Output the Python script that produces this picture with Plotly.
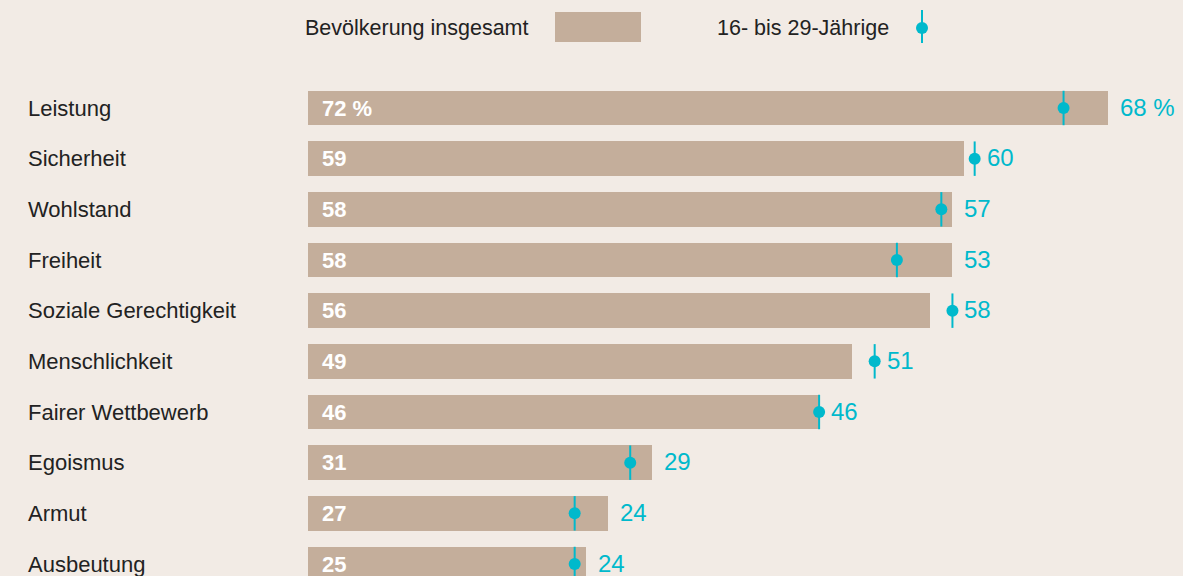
import plotly.graph_objs as go

# values
categories = ['Leistung', 'Sicherheit', 'Wohlstand', 'Freiheit', 'Soziale Gerechtigkeit',
              'Menschlichkeit', 'Fairer Wettbewerb', 'Egoismus', 'Armut', 'Ausbeutung']
total = [72, 59, 58, 58, 56, 49, 46, 31, 27, 25]
youth = [68, 60, 57, 53, 58, 51, 46, 29, 24, 24]
total_labels = ['72 %'] + [str(v) for v in total[1:]]
youth_labels = ['68 %'] + [str(v) for v in youth[1:]]

bg = '#F2EBE5'
bar_color = '#C4AE9B'
teal = '#00B9CC'
text_color = '#222222'
font = 'Liberation Sans, Arial, sans-serif'

W, H = 1183, 576
ml, mt = 308, 60
row_px = 50.67
x_px = 800 / 72  # pixels per percentage point

# pixel helpers for layout items outside the plot area
def px(x):
    return (x - ml) / (W - ml)

def py(y):
    return (H - y) / (H - mt)

ypos = list(range(len(categories)))

fig = go.Figure()

fig.add_trace(go.Bar(
    x=total, y=ypos, orientation='h',
    marker=dict(color=bar_color, line=dict(width=0)),
    width=0.69, hoverinfo='skip', showlegend=False
))

# vertical ticks through the youth markers
lx, ly = [], []
for i, v in enumerate(youth):
    lx += [v, v, None]
    ly += [i - 0.34, i + 0.34, None]
fig.add_trace(go.Scatter(
    x=lx, y=ly, mode='lines',
    line=dict(color=teal, width=2), hoverinfo='skip', showlegend=False
))
fig.add_trace(go.Scatter(
    x=youth, y=ypos, mode='markers',
    marker=dict(color=teal, size=12, line=dict(width=0)),
    hoverinfo='skip', showlegend=False
))

annotations = []
for i, cat in enumerate(categories):
    annotations.append(dict(
        x=px(26), xref='paper', y=i, yref='y', text=cat, showarrow=False,
        xanchor='left', yanchor='middle',
        font=dict(family=font, size=22, color=text_color)
    ))
    annotations.append(dict(
        x=0, xref='x', y=i, yref='y', text='<b>%s</b>' % total_labels[i], showarrow=False,
        xanchor='left', yanchor='middle', xshift=12,
        font=dict(family=font, size=22, color='white')
    ))
    annotations.append(dict(
        x=max(total[i], youth[i]), xref='x', y=i, yref='y', text=youth_labels[i],
        showarrow=False, xanchor='left', yanchor='middle', xshift=10, yshift=1,
        font=dict(family=font, size=24, color=teal)
    ))

# legend (text left of the symbol)
annotations.append(dict(
    x=px(303), xref='paper', y=py(28), yref='paper', text='Bevölkerung insgesamt',
    showarrow=False, xanchor='left', yanchor='middle',
    font=dict(family=font, size=21.5, color=text_color)
))
annotations.append(dict(
    x=px(715), xref='paper', y=py(28), yref='paper', text='16- bis 29-Jährige',
    showarrow=False, xanchor='left', yanchor='middle',
    font=dict(family=font, size=21.5, color=text_color)
))

shapes = [
    dict(type='rect', xref='paper', yref='paper', x0=px(555), x1=px(641), y0=py(42), y1=py(12),
         fillcolor=bar_color, line=dict(width=0)),
    dict(type='line', xref='paper', yref='paper', x0=px(922), x1=px(922), y0=py(43), y1=py(10),
         line=dict(color=teal, width=2)),
    dict(type='circle', xref='paper', yref='paper', x0=px(916), x1=px(928), y0=py(34), y1=py(22),
         fillcolor=teal, line=dict(width=0)),
]

fig.update_layout(
    width=W, height=H,
    margin=dict(l=ml, r=0, t=mt, b=0),
    paper_bgcolor=bg, plot_bgcolor=bg,
    xaxis=dict(range=[0, (W - ml) / x_px], visible=False, fixedrange=True),
    yaxis=dict(range=[9 + (H - 564) / row_px, -(108 - mt) / row_px], visible=False, fixedrange=True),
    annotations=annotations,
    shapes=shapes,
    bargap=0,
    showlegend=False,
)

fig.write_html('out.html', config={'displayModeBar': False})

# drop the default page margin so the figure sits at the window's corner
with open('out.html', encoding='utf-8') as f:
    page = f.read()
page = page.replace('<body>', '<body style="margin:0;background:%s">' % bg, 1)
with open('out.html', 'w', encoding='utf-8') as f:
    f.write(page)
